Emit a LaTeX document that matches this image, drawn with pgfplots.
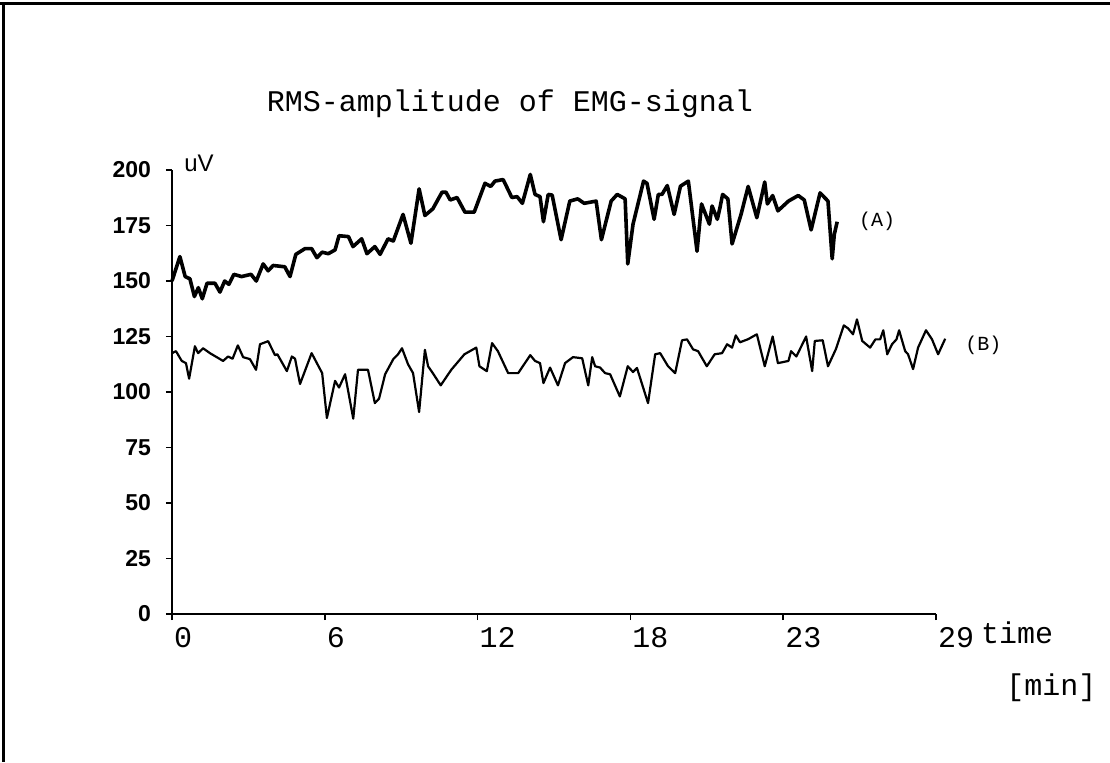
\documentclass[border=0pt]{standalone}
\usepackage{pgfplots}
\pgfplotsset{compat=1.18}
\usepackage{fontspec}
\newfontfamily\cour{Liberation Mono}
\newfontfamily\arial{Liberation Sans}

\begin{document}
\begin{tikzpicture}
\useasboundingbox (-86pt,-74pt) rectangle (469pt,307pt);
% remains of the scanned frame
\draw[line width=1.5pt] (-86pt,305pt) -- (469pt,305pt);
\draw[line width=1.5pt] (-84pt,305pt) -- (-84pt,-74pt);
\begin{axis}[
  at={(0,0)}, anchor=origin,
  scale only axis, width=382pt, height=222pt,
  xmin=0, xmax=29, ymin=0, ymax=200,
  axis lines=left, axis line style={-, line width=1pt},
  clip=false,
  xtick={0,5.8,11.6,17.4,23.2,29},
  xticklabels={0,6,12,18,23,29},
  ytick={0,25,...,200},
  tick align=outside, major tick length=3pt,
  tick style={line width=0.8pt, black},
  xticklabel style={font=\cour\fontsize{15}{15}\selectfont, anchor=north west, xshift=-2.5pt},
  yticklabel style={font=\arial\bfseries\fontsize{11.5}{11.5}\selectfont, xshift=-4pt},
  /pgf/number format/assume math mode=true,
]
% (A)
\addplot[black, line width=1.8pt, line join=round, no markers] coordinates {
(0,150) (0.3,161) (0.5,152) (0.68,151) (0.85,143) (1.0,147) (1.15,142)
(1.33,149) (1.63,149) (1.82,145) (2.0,150) (2.16,148.5) (2.35,153)
(2.64,152) (3.0,153) (3.2,150) (3.46,157.7) (3.65,154.6) (3.84,157)
(4.28,156.4) (4.48,152) (4.7,162) (5.05,164.6) (5.3,164.6) (5.5,160.5)
(5.7,163) (5.93,162.3) (6.19,164) (6.34,170.4) (6.7,170) (6.87,165.5)
(7.2,169) (7.4,162.3) (7.7,165.5) (7.9,162) (8.2,169) (8.4,168)
(8.77,180) (9.07,167) (9.38,191.5) (9.6,179.5) (9.9,182.5) (10.25,190)
(10.4,190) (10.56,186.5) (10.82,187.6) (11.12,181) (11.47,181) (11.88,194)
(12.1,192.6) (12.26,195) (12.57,195.7) (12.9,187.6) (13.1,188) (13.3,185)
(13.6,198) (13.78,189) (13.97,188) (14.1,176.7) (14.28,189) (14.43,188.7)
(14.77,168.6) (15.1,186) (15.4,187) (15.65,185) (16.1,186) (16.3,168.6)
(16.67,186) (16.9,189) (17.2,187) (17.3,157.7) (17.5,175.6) (17.9,195)
(18.03,194) (18.3,177.8) (18.46,189) (18.6,189) (18.8,193) (19.06,180)
(19.3,192.7) (19.6,195) (19.93,163.4) (20.1,184.7) (20.4,175.6) (20.5,183.8)
(20.7,177.8) (20.8,183) (20.9,189) (21.1,187) (21.26,166.7) (21.6,180)
(21.87,192.6) (22.2,178.5) (22.5,194.6) (22.6,184.7) (22.8,188.5) (23.0,181.6)
(23.4,186) (23.77,188.5) (24.0,186.5) (24.26,173) (24.6,189.7) (24.9,186)
(25.06,160) (25.14,171) (25.25,176.7)
};
% (B)
\addplot[black, line width=1.1pt, line join=round, no markers] coordinates {
(0,117.5) (0.15,118.4) (0.37,114) (0.53,113) (0.65,106) (0.87,120.6)
(0.99,117.5) (1.18,119.7) (1.44,117.5) (1.94,114) (2.13,116) (2.3,115)
(2.5,121) (2.7,115.7) (2.96,114.8) (3.19,110) (3.34,121.5) (3.65,122.9)
(3.91,116.6) (4.0,117) (4.36,109.4) (4.55,116) (4.67,115) (4.86,103.6)
(5.3,117.5) (5.7,108.5) (5.88,88.3) (6.19,105) (6.34,102) (6.57,108)
(6.88,88) (7.06,110) (7.44,110) (7.7,95) (7.86,97) (8.09,108) (8.4,114.8)
(8.58,117) (8.73,119.7) (8.96,112.5) (9.15,108.5) (9.38,91) (9.6,119)
(9.72,111.6) (9.9,108.5) (10.2,103) (10.6,110) (11.1,117) (11.55,120)
(11.67,111.6) (11.95,109.4) (12.15,122) (12.37,118.4) (12.76,108.5)
(13.14,108.5) (13.6,116.6) (13.78,114) (13.97,113) (14.1,104) (14.35,111)
(14.65,103) (14.92,113) (15.22,115.7) (15.57,115.2) (15.8,103) (15.95,115.7)
(16.06,111.6) (16.25,111) (16.44,108.5) (16.63,108) (17.0,98) (17.3,111.6)
(17.5,109) (17.65,110.8) (18.07,95) (18.34,117) (18.53,117.5) (18.83,111.6)
(19.1,108.5) (19.36,123.3) (19.55,123.7) (19.78,119.2) (19.97,118.4)
(20.3,111.6) (20.6,117) (20.88,117.5) (21.07,121.5) (21.26,120) (21.4,125.5)
(21.56,122.4) (21.87,123.8) (22.2,126) (22.5,111.6) (22.8,125) (23.0,113)
(23.4,114) (23.5,118.4) (23.7,116) (24.07,125) (24.3,109.4) (24.4,123)
(24.7,123.3) (24.9,111.6) (25.2,119.3) (25.5,130) (25.66,128.7) (25.85,126)
(26.0,132.7) (26.2,123) (26.5,120) (26.7,123.7) (26.88,123.7) (27.0,127.8)
(27.15,117) (27.33,121.5) (27.5,123.7) (27.6,127.8) (27.83,118.4) (27.94,117)
(28.13,110.3) (28.32,120) (28.62,127.8) (28.85,123.7) (29.08,117) (29.35,124)
};
\node[font=\cour\fontsize{15}{15}\selectfont] at (axis cs:12.83,229.7) {RMS-amplitude of EMG-signal};
\node[font=\arial\fontsize{12}{12}\selectfont, anchor=west, inner sep=0pt] at (axis cs:0.45,203) {uV};
\node[font=\cour\fontsize{10}{10}\selectfont] at (axis cs:26.77,177) {(A)};
\node[font=\cour\fontsize{10}{10}\selectfont] at (axis cs:30.8,121) {(B)};
\node[font=\cour\fontsize{15}{15}\selectfont, anchor=west, inner sep=0pt] at (axis cs:30.7,-8.5) {time};
\node[font=\cour\fontsize{15}{15}\selectfont, anchor=east, inner sep=0pt] at (axis cs:35.1,-33.3) {[min]};
\end{axis}
\end{tikzpicture}
\end{document}
